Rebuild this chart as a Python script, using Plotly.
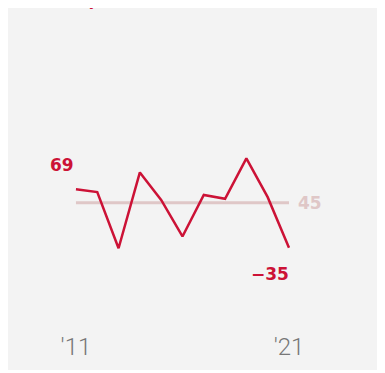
import plotly.graph_objects as go

# yearly values
years = list(range(2011, 2022))
values = [69, 64, -36, 99, 50, -15, 59, 52, 124, 55, -35]
avg = 45
tick_years = [2011, 2021]
tick_text = ["'11", "'21"]

red = "#cc1236"
pink = "#dfc7c7"

fig = go.Figure()

# average reference line
fig.add_trace(go.Scatter(x=[years[0], years[-1]], y=[avg, avg], mode="lines",
                         line=dict(color=pink, width=3), hoverinfo="skip"))
# main series
fig.add_trace(go.Scatter(x=years, y=values, mode="lines",
                         line=dict(color=red, width=2.5)))

lab_font = dict(family="DejaVu Sans", size=17, weight=700)

fig.add_annotation(x=years[0], y=values[0], text=str(values[0]), showarrow=False,
                   xshift=-14, yshift=24, font=dict(color=red, **lab_font))
fig.add_annotation(x=years[-1], y=values[-1], text="\u2212" + str(abs(values[-1])),
                   showarrow=False, xshift=-19, yshift=-26,
                   font=dict(color=red, **lab_font))
fig.add_annotation(x=years[-1], y=avg, text=str(avg), showarrow=False,
                   xanchor="left", xshift=7, font=dict(color=pink, **lab_font))

# cut-off title descender at the very top
fig.add_annotation(xref="paper", yref="paper", x=0.204, y=0.9876, yanchor="bottom",
                   text="y", showarrow=False,
                   font=dict(color=red, family="Lato", size=24, weight=700))

fig.update_layout(
    width=376, height=362,
    margin=dict(l=0, r=0, t=0, b=40),
    paper_bgcolor="#f3f3f3", plot_bgcolor="#f3f3f3",
    showlegend=False,
    xaxis=dict(range=[2007.81, 2025.46], tickvals=tick_years, ticktext=tick_text,
               showgrid=False, zeroline=False, showline=False, ticks="",
               tickfont=dict(family="Liberation Sans Narrow, Roboto", size=24,
                             weight=300, color="#777777")),
    yaxis=dict(range=[-181.6, 391.9], visible=False),
)

fig.write_html("out.html")
